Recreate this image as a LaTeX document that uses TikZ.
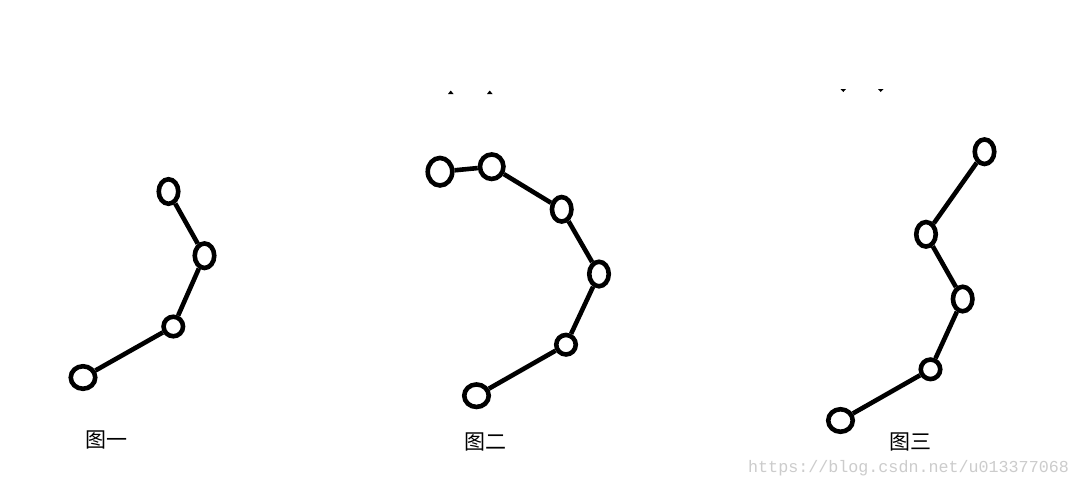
\documentclass[tikz,border=0pt]{standalone}
\usepackage{fontspec}
\newfontfamily\cjk{Noto Sans CJK SC}
\newfontfamily\wmfont{Liberation Mono}
\usetikzlibrary{shapes.geometric}
\tikzset{
  joint/.style={draw=black, line width=4.6pt, ellipse, inner sep=0pt, fill=white},
  vert/.style={joint, minimum width=19.5pt, minimum height=24.5pt},
  round/.style={joint, minimum width=19.5pt, minimum height=19.5pt},
  endjoint/.style={joint, minimum width=24.5pt, minimum height=22.5pt},
  link/.style={draw=black, line width=4.6pt},
  caption/.style={font=\cjk\fontsize{21}{21}\selectfont, inner sep=0pt, text=black},
  speck/.style={fill=black},
}
\begin{document}
\begin{tikzpicture}[x=1pt,y=-1pt]
\useasboundingbox (0,0) rectangle (1079,488);
\fill[white] (0,0) rectangle (1079,488);

% figure 1
\node[vert] (a1) at (168.5,191.5) {};
\node[vert] (a2) at (204.5,255.7) {};
\node[round] (a3) at (173.3,326.5) {};
\node[endjoint] (a4) at (83,377.5) {};
\draw[link] (a1) -- (a2) -- (a3) -- (a4);
\node[caption] (c1) at (106,440) {图一};

% figure 2
\node[joint, minimum width=24.5pt, minimum height=27.5pt] (b1) at (440,171.7) {};
\node[joint, minimum width=23.5pt, minimum height=24.5pt] (b2) at (491.7,166.7) {};
\node[vert] (b3) at (561.7,209.3) {};
\node[vert] (b4) at (599,274) {};
\node[round] (b5) at (566,344.7) {};
\node[endjoint] (b6) at (476.5,395.7) {};
\draw[link] (b1) -- (b2) -- (b3) -- (b4) -- (b5) -- (b6);
\node[caption] (c2) at (485,442) {图二};

% figure 3
\node[vert] (d1) at (984.5,151.7) {};
\node[vert] (d2) at (926,234.3) {};
\node[vert] (d3) at (962.7,299) {};
\node[round] (d4) at (930.5,369.3) {};
\node[endjoint] (d5) at (840.5,420.5) {};
\draw[link] (d1) -- (d2) -- (d3) -- (d4) -- (d5);
\node[caption] (c3) at (910,442) {图三};

% stray marks
\fill[speck] (448,94) -- (450.7,90.5) -- (453.5,94) -- cycle;
\fill[speck] (487,94) -- (489.7,90.5) -- (492.5,94) -- cycle;
\fill[speck] (840.5,89) -- (846,89) -- (843.3,92) -- cycle;
\fill[speck] (878,89) -- (883.5,89) -- (880.7,92) -- cycle;

% watermark
\node[font=\wmfont\fontsize{16.7}{16.7}\selectfont, text=black!20, inner sep=0pt, anchor=base west] (wm) at (748,472) {https://blog.csdn.net/u013377068};
\end{tikzpicture}
\end{document}
